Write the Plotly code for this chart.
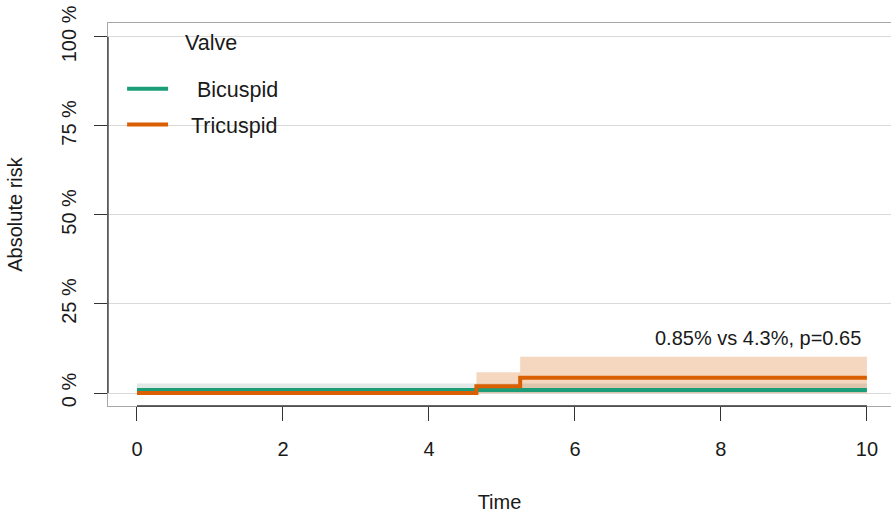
import plotly.graph_objects as go

# Data
time_bi = [0, 4.65, 10]
risk_bi = [0.85, 0.85, 0.85]
lower_bi = [0, 0, 0]
upper_bi = [2.7, 2.7, 2.7]

time_tri = [0, 4.65, 5.25, 10]
risk_tri = [0, 1.9, 4.3, 4.3]
lower_tri = [0, 0, 0, 0]
upper_tri = [0, 5.8, 10.2, 10.2]

series_names = ["Bicuspid", "Tricuspid"]
x_ticks = [0, 2, 4, 6, 8, 10]
y_ticks = [0, 25, 50, 75, 100]
y_tick_labels = ["0 %", "25 %", "50 %", "75 %", "100 %"]

GREEN = "#1B9E77"
ORANGE = "#D95F02"
FONT = "Liberation Sans, Arial, sans-serif"
NB = "\u00a0"

fig = go.Figure()

# Confidence bands
fig.add_trace(go.Scatter(x=time_bi, y=lower_bi, mode="lines", line=dict(width=0, shape="hv"),
                         showlegend=False, hoverinfo="skip"))
fig.add_trace(go.Scatter(x=time_bi, y=upper_bi, mode="lines", line=dict(width=0, shape="hv"),
                         fill="tonexty", fillcolor="rgba(120,150,140,0.22)",
                         showlegend=False, hoverinfo="skip"))
fig.add_trace(go.Scatter(x=time_tri, y=lower_tri, mode="lines", line=dict(width=0, shape="hv"),
                         showlegend=False, hoverinfo="skip"))
fig.add_trace(go.Scatter(x=time_tri, y=upper_tri, mode="lines", line=dict(width=0, shape="hv"),
                         fill="tonexty", fillcolor="rgba(217,95,2,0.25)",
                         showlegend=False, hoverinfo="skip"))

# Step lines
fig.add_trace(go.Scatter(x=time_bi, y=risk_bi, mode="lines", name=NB * 4 + series_names[0],
                         line=dict(color=GREEN, width=4, shape="hv"), legendgroup="a"))
fig.add_trace(go.Scatter(x=time_tri, y=risk_tri, mode="lines", name=NB * 3 + series_names[1],
                         line=dict(color=ORANGE, width=4, shape="hv"), legendgroup="b"))

fig.add_annotation(x=10, y=15.5, xref="x", yref="y", text="0.85% vs 4.3%, p=0.65",
                   showarrow=False, xanchor="right", yanchor="middle", xshift=-4,
                   font=dict(family=FONT, size=20, color="#1a1a1a"))

# Legend title
fig.add_annotation(x=(211 - 108) / 783, y=1 - (43 - 23) / 383, xref="paper", yref="paper",
                   text="Valve", showarrow=False, xanchor="center", yanchor="middle",
                   font=dict(family=FONT, size=21.5, color="#1a1a1a"))

# R-style dark axis segments
fig.add_shape(type="line", xref="paper", yref="y", x0=0, x1=0, y0=0, y1=100,
              line=dict(color="#333333", width=1.3))
fig.add_shape(type="line", xref="x", yref="paper", x0=0, x1=10, y0=0, y1=0,
              line=dict(color="#333333", width=1.3))

fig.update_layout(
    width=891, height=515,
    margin=dict(l=108, r=0, t=23, b=109),
    paper_bgcolor="white", plot_bgcolor="white",
    font=dict(family=FONT, size=20, color="#1a1a1a"),
    showlegend=True,
    legend=dict(
        x=0.018, y=0.882, xanchor="left", yanchor="top",
        bgcolor="rgba(0,0,0,0)", borderwidth=0,
        tracegroupgap=5, itemwidth=41,
        font=dict(family=FONT, size=21.5),
    ),
    xaxis=dict(
        range=[-0.397, 10.33], tickvals=x_ticks, ticktext=[str(v) for v in x_ticks],
        showgrid=False, zeroline=False,
        showline=True, mirror=True, linecolor="#a6a6a6", linewidth=1,
        ticks="outside", ticklen=14, tickcolor="#333333", tickwidth=1.3,
        tickfont=dict(size=20), ticklabelstandoff=11,
        title=dict(text="Time", font=dict(size=20), standoff=35),
        automargin=False,
    ),
    yaxis=dict(
        range=[-3.65, 103.9], tickvals=y_ticks, ticktext=y_tick_labels, tickangle=-90,
        showgrid=True, gridcolor="#d9d9d9", gridwidth=1, zeroline=False,
        showline=True, mirror=True, linecolor="#a6a6a6", linewidth=1,
        ticks="outside", ticklen=13, tickcolor="#333333", tickwidth=1.3,
        tickfont=dict(size=20), ticklabelstandoff=10,
        title=dict(text="Absolute risk", font=dict(size=20), standoff=30),
        automargin=False,
    ),
)

fig.write_html("out.html")
